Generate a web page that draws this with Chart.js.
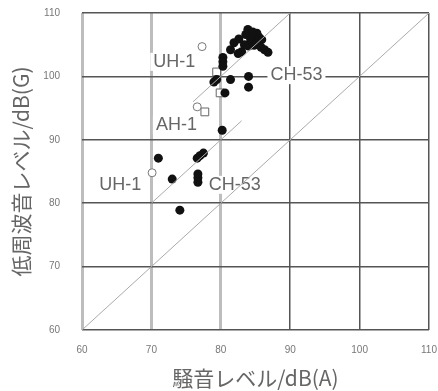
<!DOCTYPE html>
<html>
<head>
<meta charset="utf-8">
<script src="https://cdn.jsdelivr.net/npm/chart.js@4"></script>
<style>
  body { margin: 0; background: #fff; }
  #wrap { width: 438px; height: 391px; }
</style>
</head>
<body>
<div id="wrap"><canvas id="chart" width="438" height="391"></canvas></div>
<script>
// axis range / ticks
const axisMin = 60;
const axisMax = 110;
const tickStep = 10;

// filled markers (noise level dB(A), low-freq level dB(G))
const filledX = [81.4, 81.9, 82.6, 83.0, 82.5, 83.6, 83.9, 84.3, 84.7, 85.2, 85.5, 85.9, 85.3, 84.8, 84.0, 85.8, 86.3, 86.8, 83.4, 84.6,
                 80.3, 80.3, 80.3, 79.0, 79.4, 81.4, 84.0, 84.0, 80.6, 80.2,
                 71.0, 73.0, 74.1, 76.6, 77.0, 77.5, 76.7, 76.7, 76.7];
const filledY = [104.2, 105.3, 105.9, 103.9, 103.6, 106.6, 107.4, 105.8, 106.3, 106.8, 106.2, 105.8, 105.3, 104.9, 104.8, 104.6, 104.2, 103.8, 105.0, 107.0,
                 103.0, 102.3, 101.6, 99.1, 99.5, 99.5, 100.0, 98.3, 97.4, 91.5,
                 87.1, 83.8, 78.9, 87.1, 87.5, 87.9, 84.6, 84.0, 83.3];

// open circles
const openCircleX = [77.3, 70.1, 76.6];
const openCircleY = [104.7, 84.8, 95.2];

// open squares
const openSquareX = [77.7, 79.4, 79.9];
const openSquareY = [94.4, 100.7, 97.4];

// reference lines
const line0X = [60, 110], line0Y = [60, 110];
const line10X = [70, 83], line10Y = [80, 93];
const line20X = [76, 90], line20Y = [96, 110];

// annotations
const noteText = ['UH-1', 'CH-53', 'AH-1', 'UH-1', 'CH-53'];
const noteX = [73.3, 90.9, 73.6, 65.5, 82.0];
const noteY = [102.3, 100.2, 92.3, 82.9, 82.9];

function pts(xs, ys) {
  return xs.map((x, i) => ({ x: x, y: ys[i] }));
}

const noteLabels = {
  id: 'noteLabels',
  beforeDatasetsDraw(chart) {
    const ctx = chart.ctx;
    const xs = chart.scales.x, ys = chart.scales.y;
    ctx.save();
    ctx.font = '18px "Liberation Sans", Arial, sans-serif';
    ctx.textAlign = 'center';
    ctx.textBaseline = 'middle';
    noteText.forEach((t, i) => {
      const px = xs.getPixelForValue(noteX[i]);
      const py = ys.getPixelForValue(noteY[i]);
      const w = ctx.measureText(t).width;
      ctx.fillStyle = '#fff';
      ctx.fillRect(px - w / 2 - 3, py - 9, w + 6, 18);
      ctx.fillStyle = '#666';
      ctx.fillText(t, px, py);
    });
    ctx.restore();
  }
};

const lineStyle = { showLine: true, borderColor: '#aaa', borderWidth: 1, pointRadius: 0, fill: false };

new Chart(document.getElementById('chart'), {
  type: 'scatter',
  data: {
    datasets: [
      Object.assign({ data: pts(line0X, line0Y) }, lineStyle),
      Object.assign({ data: pts(line10X, line10Y) }, lineStyle),
      Object.assign({ data: pts(line20X, line20Y) }, lineStyle),
      { data: pts(filledX, filledY), pointRadius: 4.5, backgroundColor: '#111', borderColor: '#111', borderWidth: 0 },
      { data: pts(openCircleX, openCircleY), pointRadius: 4, backgroundColor: '#fff', borderColor: '#777', borderWidth: 1 },
      { data: pts(openSquareX, openSquareY), pointStyle: 'rect', pointRadius: 5.5, backgroundColor: '#fff', borderColor: '#666', borderWidth: 1 }
    ]
  },
  options: {
    responsive: false,
    animation: false,
    layout: { padding: 0 },
    plugins: { legend: { display: false }, tooltip: { enabled: false } },
    scales: {
      x: {
        type: 'linear', min: axisMin, max: axisMax,
        afterFit: s => { s.height = 61; s.paddingLeft = 0; s.paddingRight = 9; },
        border: { display: false },
        grid: {
          drawTicks: false,
          color: c => (c.tick && c.tick.value <= 80) ? '#bdbdbd' : '#555',
          lineWidth: c => (c.tick && c.tick.value <= 80) ? 3 : 1.5
        },
        ticks: { stepSize: tickStep, padding: 14, color: '#777', font: { size: 10, family: 'Arial, sans-serif' } },
        title: { display: true, text: '騒音レベル/dB(A)', color: '#666', padding: { top: 0, bottom: 0 },
                 font: { size: 21, family: '"Noto Sans CJK JP", sans-serif' } }
      },
      y: {
        type: 'linear', min: axisMin, max: axisMax,
        afterFit: s => { s.width = 82; s.paddingTop = 13; s.paddingBottom = 0; },
        border: { display: false },
        grid: { drawTicks: false, color: '#555', lineWidth: 1.5 },
        ticks: { stepSize: tickStep, padding: 22, color: '#777', font: { size: 10, family: 'Arial, sans-serif' } },
        title: { display: true, text: '低周波音レベル/dB(G)', color: '#666', padding: { top: 8, bottom: 0 },
                 font: { size: 21, family: '"Noto Sans CJK JP", sans-serif' } }
      }
    }
  },
  plugins: [noteLabels]
});
</script>
</body>
</html>
